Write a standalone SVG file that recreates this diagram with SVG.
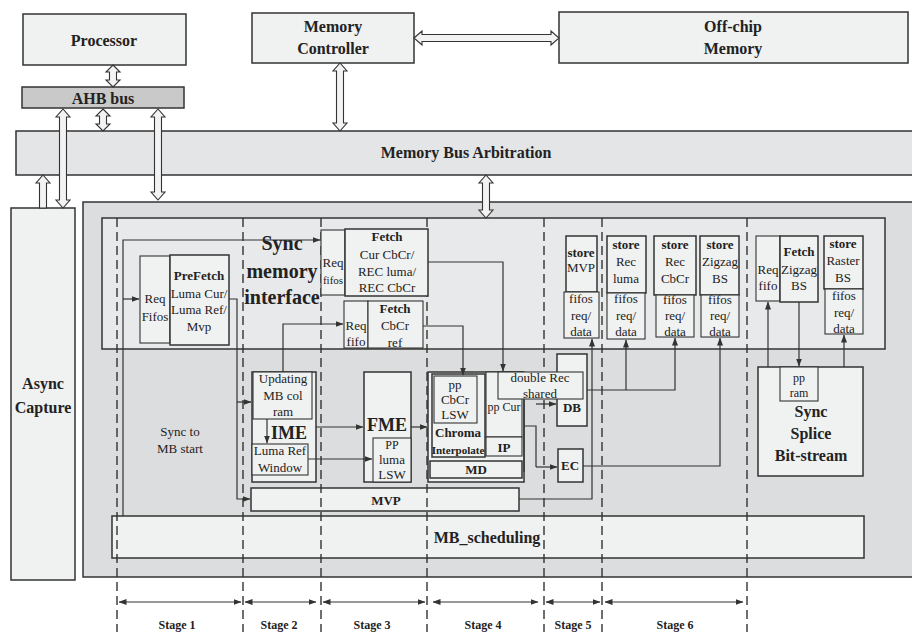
<svg xmlns="http://www.w3.org/2000/svg" width="912" height="632" viewBox="0 0 912 632">
<defs>
<marker id="ah" markerWidth="8" markerHeight="6" refX="7.5" refY="3" orient="auto-start-reverse" markerUnits="userSpaceOnUse"><path d="M0,0 L8,3 L0,6 z" fill="#333"/></marker>
<style>
.t{font-family:"Liberation Serif","Times New Roman",serif;fill:#222;text-anchor:middle}
.b{font-weight:bold}
.s20{font-size:20px}.s18{font-size:18px}.s16{font-size:16px}.s13{font-size:13px}.s12{font-size:12px}.s11{font-size:11px}
.box{fill:#f0f1f1;stroke:#333;stroke-width:1.5}
.thin{fill:#f0f1f1;stroke:#333;stroke-width:1.1}
.bus{fill:#f3f3f3;stroke:#333;stroke-width:1.1}
.conn{fill:none;stroke:#333;stroke-width:1.2}
.arr{marker-end:url(#ah)}
.dash{stroke:#333;stroke-width:1.4;stroke-dasharray:9 5}
.stg{stroke:#333;stroke-width:1.2;marker-start:url(#ah);marker-end:url(#ah)}
</style>
</defs>
<rect width="912" height="632" fill="#ffffff"/>

<g id="processor"><rect class="box" x="23" y="14" width="163" height="51"/><text class="t b s16" x="104" y="46">Processor</text></g>
<g id="ahb-bus"><rect x="22" y="87" width="162" height="21" fill="#c9c9ca" stroke="#333" stroke-width="1.5"/><text class="t b s16" x="103" y="104">AHB bus</text></g>
<g id="memory-controller"><rect class="box" x="252" y="13" width="162" height="50"/><text class="t b s16" x="333" y="32">Memory</text><text class="t b s16" x="333" y="54">Controller</text></g>
<g id="off-chip-memory"><rect class="box" x="559" y="12" width="349" height="51"/><text class="t b s16" x="733" y="32">Off-chip</text><text class="t b s16" x="733" y="54">Memory</text></g>
<g id="memory-bus-arbitration"><rect x="16" y="131" width="900" height="44" fill="#e4e5e6" stroke="#333" stroke-width="1.5"/><text class="t b s16" x="466" y="158">Memory Bus Arbitration</text></g>
<g id="async-capture"><rect class="box" x="11" y="208" width="64" height="372"/><text class="t b s16" x="43" y="389">Async</text><text class="t b s16" x="43" y="413">Capture</text></g>

<g id="accelerator"><rect x="83" y="202" width="835" height="375" fill="#dcdddf" stroke="#333" stroke-width="1.5"/></g>
<g id="sync-memory-interface"><rect x="102" y="218" width="783" height="131" fill="#e8e9ea" stroke="#333" stroke-width="1.5"/><text class="t b s20" x="282" y="250">Sync</text><text class="t b s20" x="282" y="278">memory</text><text class="t b s20" x="282" y="304">interface</text></g>
<g id="mb-scheduling"><rect class="box" x="112" y="516" width="752" height="42"/><text class="t b s16" x="487" y="543">MB_scheduling</text></g>
<g id="mvp"><rect class="box" x="251" y="488" width="268" height="23"/><text class="t b s13" x="386" y="505">MVP</text></g>
<g id="sync-to-mb-start"><text class="t s13" x="180" y="436">Sync to</text><text class="t s13" x="180" y="453">MB start</text></g>

<g id="stage-lines">
<line class="dash" x1="117" y1="218" x2="117" y2="632"/>
<line class="dash" x1="243" y1="218" x2="243" y2="632"/>
<line class="dash" x1="321" y1="218" x2="321" y2="632"/>
<line class="dash" x1="427" y1="218" x2="427" y2="632"/>
<line class="dash" x1="544" y1="218" x2="544" y2="632"/>
<line class="dash" x1="602" y1="218" x2="602" y2="632"/>
<line class="dash" x1="747" y1="218" x2="747" y2="632"/>
</g>

<g id="prefetch"><rect class="thin" x="140" y="256" width="30" height="87"/><text class="t s13" x="155" y="303">Req</text><text class="t s13" x="155" y="321">Fifos</text><rect class="box" x="170" y="255" width="59" height="90"/><text class="t b s13" x="199" y="280">PreFetch</text><text class="t s13" x="199" y="298">Luma Cur/</text><text class="t s13" x="199" y="314">Luma Ref/</text><text class="t s13" x="199" y="331">Mvp</text></g>

<g id="fetch-cur-cbcr"><rect class="thin" x="321" y="230" width="24" height="65"/><text class="t s13" x="333" y="267">Req</text><text class="t s11" x="333" y="284">fifos</text><rect class="box" x="345" y="229" width="83" height="67"/><text class="t b s13" x="387" y="241">Fetch</text><text class="t s13" x="387" y="259">Cur CbCr/</text><text class="t s13" x="387" y="276">REC luma/</text><text class="t s13" x="387" y="292">REC CbCr</text></g>

<g id="fetch-cbcr-ref"><rect class="thin" x="344" y="301" width="24" height="47"/><text class="t s13" x="356" y="330">Req</text><text class="t s13" x="356" y="346">fifo</text><rect class="thin" x="368" y="301" width="55" height="47"/><text class="t b s13" x="395" y="313">Fetch</text><text class="t s13" x="395" y="330">CbCr</text><text class="t s13" x="395" y="347">ref</text></g>

<g id="ime"><rect class="box" x="252" y="372" width="64" height="110"/><rect class="thin" x="253" y="372" width="59" height="47"/><text class="t s13" x="283" y="383">Updating</text><text class="t s13" x="283" y="400">MB col</text><text class="t s13" x="283" y="416">ram</text><text class="t b s18" x="289" y="439">IME</text><rect class="thin" x="252" y="444" width="56" height="31"/><text class="t s13" x="280" y="455">Luma Ref</text><text class="t s13" x="280" y="472">Window</text></g>

<g id="fme"><rect class="box" x="364" y="372" width="47" height="110"/><text class="t b s18" x="387" y="431">FME</text><rect class="thin" x="373" y="438" width="38" height="44"/><text class="t s12" x="392" y="449">PP</text><text class="t s13" x="392" y="464">luma</text><text class="t s13" x="392" y="479">LSW</text></g>

<g id="md-group"><rect class="box" x="428" y="372" width="96" height="110"/>
<rect class="box" x="432" y="374" width="53" height="83"/><rect class="thin" x="434" y="376" width="43" height="47"/><text class="t s13" x="455" y="389">pp</text><text class="t s13" x="455" y="404">CbCr</text><text class="t s13" x="455" y="419">LSW</text><text class="t b s13" x="458" y="437">Chroma</text><text class="t b s11" x="458" y="454">Interpolate</text>
<rect class="thin" x="486" y="372" width="36" height="65"/><text class="t s12" x="504" y="411">pp Cur</text><rect class="thin" x="486" y="437" width="36" height="19"/><text class="t b s13" x="504" y="452">IP</text>
<rect class="box" x="430" y="461" width="92" height="17"/><text class="t b s13" x="476" y="474">MD</text></g>

<g id="db"><rect class="box" x="557" y="354" width="30" height="72"/><text class="t b s13" x="572" y="412">DB</text></g>
<g id="double-rec-shared"><rect class="thin" x="498" y="372" width="85" height="27"/><text class="t s13" x="540" y="382">double Rec</text><text class="t s13" x="540" y="398">shared</text></g>
<g id="ec"><rect class="box" x="558" y="449" width="25" height="33"/><text class="t b s13" x="570" y="470">EC</text></g>

<g id="store-mvp"><rect class="box" x="566" y="236" width="31" height="56"/><text class="t b s13" x="581" y="257">store</text><text class="t s13" x="581" y="272">MVP</text><rect class="thin" x="564" y="292" width="35" height="46"/><text class="t s13" x="581" y="303">fifos</text><text class="t s13" x="581" y="320">req/</text><text class="t s13" x="581" y="336">data</text></g>
<g id="store-rec-luma"><rect class="box" x="607" y="236" width="39" height="57"/><text class="t b s13" x="626" y="249">store</text><text class="t s13" x="626" y="266">Rec</text><text class="t s13" x="626" y="283">luma</text><rect class="thin" x="607" y="293" width="38" height="46"/><text class="t s13" x="626" y="303">fifos</text><text class="t s13" x="626" y="320">req/</text><text class="t s13" x="626" y="336">data</text></g>
<g id="store-rec-cbcr"><rect class="box" x="654" y="236" width="42" height="59"/><text class="t b s13" x="675" y="249">store</text><text class="t s13" x="675" y="266">Rec</text><text class="t s13" x="675" y="283">CbCr</text><rect class="thin" x="656" y="295" width="38" height="42"/><text class="t s13" x="675" y="304">fifos</text><text class="t s13" x="675" y="320">req/</text><text class="t s13" x="675" y="336">data</text></g>
<g id="store-zigzag-bs"><rect class="box" x="700" y="236" width="39" height="59"/><text class="t b s13" x="720" y="249">store</text><text class="t s13" x="720" y="266">Zigzag</text><text class="t s13" x="720" y="283">BS</text><rect class="thin" x="701" y="295" width="38" height="42"/><text class="t s13" x="720" y="304">fifos</text><text class="t s13" x="720" y="320">req/</text><text class="t s13" x="720" y="336">data</text></g>
<g id="fetch-zigzag-bs"><rect class="thin" x="756" y="236" width="24" height="65"/><text class="t s13" x="768" y="274">Req</text><text class="t s13" x="768" y="290">fifo</text><rect class="box" x="780" y="236" width="38" height="66"/><text class="t b s13" x="799" y="256">Fetch</text><text class="t s13" x="799" y="274">Zigzag</text><text class="t s13" x="799" y="290">BS</text></g>
<g id="store-raster-bs"><rect class="box" x="824" y="236" width="39" height="53"/><text class="t b s13" x="843" y="248">store</text><text class="t s13" x="843" y="265">Raster</text><text class="t s13" x="843" y="282">BS</text><rect class="thin" x="825" y="289" width="38" height="45"/><text class="t s13" x="844" y="300">fifos</text><text class="t s13" x="844" y="317">req/</text><text class="t s13" x="844" y="333">data</text></g>

<g id="sync-splice-bitstream"><rect class="box" x="758" y="367" width="105" height="109"/><rect class="thin" x="780" y="367" width="38" height="34"/><text class="t s12" x="799" y="382">pp</text><text class="t s12" x="799" y="397">ram</text><text class="t b s16" x="811" y="417">Sync</text><text class="t b s16" x="811" y="439">Splice</text><text class="t b s16" x="811" y="461">Bit-stream</text></g>

<g id="connectors">
<polygon class="bus" points="113,65 120,72 116.5,72 116.5,80 120,80 113,87 106,80 109.5,80 109.5,72 106,72"/>
<polygon class="bus" points="103,109 110,116 106.5,116 106.5,124 110,124 103,131 96,124 99.5,124 99.5,116 96,116"/>
<polygon class="bus" points="63,109 70,117 66.5,117 66.5,200 70,200 63,208 56,200 59.5,200 59.5,117 56,117"/>
<polygon class="bus" points="158,109 165,117 161.5,117 161.5,192 165,192 158,200 151,192 154.5,192 154.5,117 151,117"/>
<polygon class="bus" points="43,175 50,183 46.5,183 46.5,208 39.5,208 39.5,183 36,183"/>
<polygon class="bus" points="340,63 347,71 343.5,71 343.5,123 347,123 340,131 333,123 336.5,123 336.5,71 333,71"/>
<polygon class="bus" points="414,38 422,31 422,34.5 551,34.5 551,31 559,38 551,45 551,41.5 422,41.5 422,45"/>
<polygon class="bus" points="486,175 493,183 489.5,183 489.5,210 493,210 486,218 479,210 482.5,210 482.5,183 479,183"/>
<path class="conn arr" d="M123,516 V240 H320"/>
<path class="conn arr" d="M123,299 H139"/>
<path class="conn arr" d="M229,299 H237 V499 H250"/>
<path class="conn arr" d="M237,402 H251"/>
<path class="conn arr" d="M283,372 V324 H343"/>
<path class="conn arr" d="M267,419 V443"/>
<path class="conn arr" d="M316,427 H363"/>
<path class="conn arr" d="M308,459 H372"/>
<path class="conn arr" d="M411,427 H427"/>
<path class="conn arr" d="M428,262 H503 V371"/>
<path class="conn arr" d="M423,326 H463 V375"/>
<path class="conn" d="M524,400 V472 M524,426 H536 V467"/>
<path class="conn arr" d="M536,404 H556"/>
<path class="conn arr" d="M536,467 H557"/>
<path class="conn arr" d="M519,499 H592 V339"/>
<path class="conn arr" d="M587,390 H675 V338"/>
<path class="conn arr" d="M626,390 V340"/>
<path class="conn arr" d="M583,466 H720 V338"/>
<path class="conn arr" d="M768,367 V302"/>
<path class="conn arr" d="M799,302 V366"/>
<path class="conn arr" d="M844,367 V335"/>
<line class="stg" x1="119" y1="602" x2="241" y2="602"/>
<line class="stg" x1="245" y1="602" x2="316" y2="602"/>
<line class="stg" x1="323" y1="602" x2="425" y2="602"/>
<line class="stg" x1="433" y1="602" x2="538" y2="602"/>
<line class="stg" x1="546" y1="602" x2="600" y2="602"/>
<line class="stg" x1="605" y1="602" x2="743" y2="602"/>
</g>
<g id="stage-labels">
<text class="t b s12" x="177" y="629">Stage 1</text>
<text class="t b s12" x="279" y="629">Stage 2</text>
<text class="t b s12" x="372" y="629">Stage 3</text>
<text class="t b s12" x="483" y="629">Stage 4</text>
<text class="t b s12" x="573" y="629">Stage 5</text>
<text class="t b s12" x="675" y="629">Stage 6</text>
</g>
</svg>
